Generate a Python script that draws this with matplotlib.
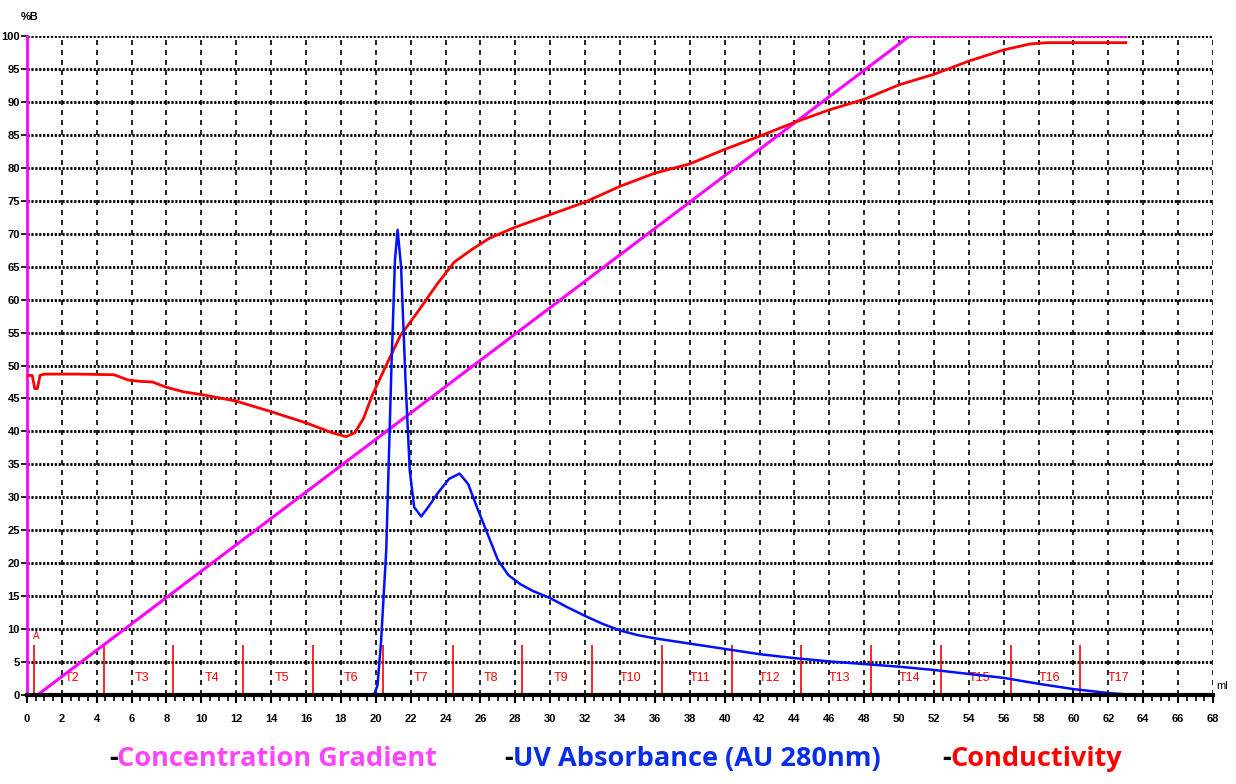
import numpy as np
import matplotlib.pyplot as plt
from matplotlib.ticker import MultipleLocator

# 梯度 (%B)
grad_ml = [0.0, 0.6, 50.6, 63.0]
grad_b = [0.0, 0.0, 100.0, 100.0]

# 电导
cond_ml = [0.0, 0.3, 0.45, 0.6, 0.75, 1.0, 3.0, 5.0, 5.8, 6.5, 7.2, 8.0, 9.0, 10.0, 12.0,
           14.0, 16.0, 17.5, 18.3, 18.8, 19.3, 19.8, 20.5, 21.4, 22.5, 23.5, 24.5,
           25.5, 26.5, 28.0, 30.0, 32.0, 34.0, 36.0, 38.0, 40.0, 42.0, 44.0, 46.0,
           48.0, 50.0, 52.0, 54.0, 56.0, 57.5, 58.5, 63.0]
cond_val = [48.5, 48.5, 46.5, 46.5, 48.5, 48.7, 48.7, 48.6, 47.8, 47.6, 47.5, 46.7, 46.0,
            45.6, 44.6, 43.0, 41.3, 39.8, 39.2, 39.8, 42.0, 45.5, 49.5, 54.5, 58.5,
            62.3, 65.7, 67.6, 69.3, 71.0, 72.9, 74.8, 77.2, 79.2, 80.6, 82.8, 84.8,
            86.9, 88.8, 90.4, 92.6, 94.2, 96.2, 97.9, 98.8, 99.0, 99.0]

# 紫外吸收
uv_ml = [0.0, 19.9, 20.1, 20.3, 20.6, 20.9, 21.1, 21.25, 21.45, 21.7, 21.95, 22.2,
         22.6, 23.0, 23.6, 24.2, 24.8, 25.3, 25.8, 26.4, 27.0, 27.6, 28.3, 29.0,
         30.0, 31.0, 32.0, 33.0, 34.0, 35.0, 36.0, 38.0, 40.0, 42.0, 44.0, 46.0,
         48.0, 50.0, 52.0, 54.0, 56.0, 58.0, 60.0, 61.0, 62.0, 63.0]
uv_val = [0.0, 0.0, 1.5, 8.0, 22.0, 50.0, 66.0, 70.6, 65.0, 48.0, 34.0, 28.5,
          27.1, 28.5, 30.8, 32.8, 33.6, 32.0, 28.5, 24.5, 20.5, 18.2, 16.8, 15.8,
          14.7, 13.3, 12.0, 10.8, 9.8, 9.1, 8.6, 7.8, 7.0, 6.2, 5.6, 5.1,
          4.7, 4.3, 3.8, 3.2, 2.6, 1.7, 0.9, 0.6, 0.3, 0.1]

# 收集管
frac_ml = [0.4, 4.4, 8.4, 12.4, 16.4, 20.4, 24.4, 28.4, 32.4, 36.4, 40.4, 44.4,
           48.4, 52.4, 56.4, 60.4]
frac_names = ["T2", "T3", "T4", "T5", "T6", "T7", "T8", "T9", "T10", "T11", "T12",
              "T13", "T14", "T15", "T16", "T17"]

fig = plt.figure(figsize=(12.36, 7.84), dpi=100)
ax = fig.add_axes([0.0218, 0.1135, 0.9596, 0.8405])

ax.set_xlim(0, 68)
ax.set_ylim(0, 100)
ax.xaxis.set_major_locator(MultipleLocator(2))
ax.xaxis.set_minor_locator(MultipleLocator(0.5))
ax.yaxis.set_major_locator(MultipleLocator(5))

ax.grid(axis="x", which="major", color="black", linestyle=(0, (3, 3)), linewidth=1.2)
ax.grid(axis="y", which="major", color="black", linestyle=(0, (0.8, 0.6)), linewidth=2.0)

for s in ["top", "right"]:
    ax.spines[s].set_visible(False)
ax.spines["bottom"].set_linewidth(3)
ax.spines["bottom"].set_zorder(10)
ax.spines["left"].set_color("#ff00ff")
ax.spines["left"].set_linewidth(2)
ax.spines["left"].set_linestyle((0, (2, 1)))

ax.tick_params(axis="x", which="major", length=6, width=1.5, labelsize=8, pad=8)
ax.tick_params(axis="x", which="minor", length=4, width=1.2)
ax.tick_params(axis="y", length=4, width=1.2, labelsize=8, pad=1)
for lab in ax.get_xticklabels() + ax.get_yticklabels():
    lab.set_fontweight("bold")
    lab.set_fontfamily("Liberation Sans")

# fraction marks
for m, name in zip(frac_ml, frac_names):
    ax.vlines(m, 0, 7.6, color="red", linewidth=1.2, zorder=3)
    ax.text(m + 2.2, 2.6, name, color="red", fontsize=9, ha="center", va="center",
            family="Liberation Sans")
ax.text(frac_ml[0] + 0.15, 9.0, "A", color="red", fontsize=7, ha="center", va="center")

ax.plot(grad_ml, grad_b, color="#ff00ff", linewidth=2.2, zorder=4)
ax.plot(cond_ml, cond_val, color="red", linewidth=2.0, zorder=5)
ax.plot(uv_ml, uv_val, color="#0010ff", linewidth=1.8, zorder=6)

fig.text(0.017, 0.985, "%B", fontsize=8, fontweight="bold", ha="left", va="top",
         family="Liberation Sans")
fig.text(0.984, 0.118, "ml", fontsize=8, ha="left", va="bottom",
         family="Liberation Sans")

# 图例
leg_y = 0.015
items = [(0.088, "Concentration Gradient", "#ff44ff"),
         (0.408, "UV Absorbance (AU 280nm)", "#0a2ee6"),
         (0.762, "Conductivity", "red")]
for x0, txt, c in items:
    fig.text(x0, leg_y, "-", fontsize=19.5, fontweight="bold", color="black",
             family="Open Sans", ha="left", va="bottom")
    fig.text(x0 + 0.007, leg_y, txt, fontsize=19.5, fontweight="bold", color=c,
             family="Open Sans", ha="left", va="bottom")

fig.savefig("out.png", dpi=100)
